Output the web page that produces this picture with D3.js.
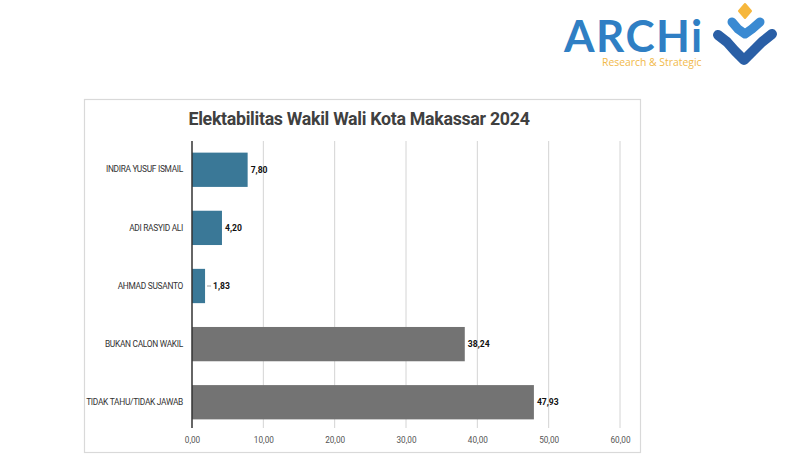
<!DOCTYPE html>
<html><head><meta charset="utf-8">
<script src="https://cdn.jsdelivr.net/npm/d3@7"></script>
<style>body{margin:0;background:#fff}svg{display:block}</style>
</head><body>
<svg id="c" width="800" height="460"></svg>
<script>
const categories = ["INDIRA YUSUF ISMAIL","ADI RASYID ALI","AHMAD SUSANTO","BUKAN CALON WAKIL","TIDAK TAHU/TIDAK JAWAB"];
const values = [7.80, 4.20, 1.83, 38.24, 47.93];
const groups = ["cand","cand","cand","other","other"];
const tickValues = [0,10,20,30,40,50,60];
const title = "Elektabilitas Wakil Wali Kota Makassar 2024";

const svg = d3.select("#c");
const fmt = v => d3.format(".2f")(v).replace(".", ",");

// chart frame
svg.append("rect").attr("x",84.5).attr("y",99.5).attr("width",556).attr("height",353)
  .attr("fill","#fff").attr("stroke","#d9d9d9").attr("stroke-width",1.2);

const x = d3.scaleLinear().domain([0,60]).range([192,620]);
const y = d3.scaleBand().domain(categories).range([141,431]).paddingInner(0.41).paddingOuter(0.2);
const color = d3.scaleOrdinal().domain(["cand","other"]).range(["#3a7897","#737373"]);

// grid
svg.append("g").selectAll("line").data(tickValues.slice(1)).join("line")
  .attr("x1",d=>x(d)).attr("x2",d=>x(d)).attr("y1",141).attr("y2",428)
  .attr("stroke","#d4d4d4").attr("stroke-width",1);

// x axis labels
const xa = svg.append("g").attr("transform","translate(0,428)")
  .call(d3.axisBottom(x).tickValues(tickValues).tickFormat(fmt).tickSize(0).tickPadding(9));
xa.select(".domain").remove();
xa.selectAll("text").attr("font-family","Roboto, sans-serif").attr("font-size",8.2).attr("fill","#555");

// bars
const data = categories.map((c,i)=>({c, v:values[i], g:groups[i]}));
svg.append("g").selectAll("rect").data(data).join("rect")
  .attr("x",x(0)).attr("y",d=>y(d.c)).attr("width",d=>x(d.v)-x(0)).attr("height",y.bandwidth())
  .attr("fill",d=>color(d.g));

// y axis
const ya = svg.append("g").attr("transform",`translate(${x(0)},0)`)
  .call(d3.axisLeft(y).tickSize(0).tickPadding(9));
ya.select(".domain").remove();
ya.selectAll("text").attr("font-family","Roboto, sans-serif").attr("font-size",8.4).attr("fill","#333").attr("letter-spacing",-0.3);
svg.append("line").attr("x1",x(0)).attr("x2",x(0)).attr("y1",141).attr("y2",428)
  .attr("stroke","#333").attr("stroke-width",1.5);

// value labels
svg.append("g").selectAll("text").data(data).join("text")
  .attr("x",d=> d.v < 3 ? x(d.v)+8 : x(d.v)+3)
  .attr("y",d=>y(d.c)+y.bandwidth()/2).attr("dy","0.35em")
  .attr("font-family","Roboto, sans-serif").attr("font-weight","bold").attr("font-size",8.6).attr("fill","#111")
  .text(d=>fmt(d.v));
// leader for small value
svg.append("g").selectAll("line").data(data.filter(d=>d.v<3)).join("line")
  .attr("x1",d=>x(d.v)+2).attr("x2",d=>x(d.v)+6)
  .attr("y1",d=>y(d.c)+y.bandwidth()/2).attr("y2",d=>y(d.c)+y.bandwidth()/2)
  .attr("stroke","#888").attr("stroke-width",0.8);

// title
svg.append("text").attr("x",359).attr("y",125).attr("text-anchor","middle")
  .attr("font-family","Roboto, sans-serif").attr("font-weight","bold").attr("font-size",17.8)
  .attr("fill","#404040").attr("letter-spacing",-0.3).text(title);

// logo
const logo = svg.append("g");
logo.append("text").attr("x",564).attr("y",52).attr("font-family","Lato, 'Open Sans', sans-serif")
  .attr("font-weight","bold").attr("font-size",44).attr("fill","#2f7fc4").attr("letter-spacing",1.5).text("ARCHi");
logo.append("text").attr("x",602).attr("y",66).attr("font-family","'Open Sans', sans-serif")
  .attr("font-size",10.4).attr("fill","#f1b94a").text("Research & Strategic");
logo.append("path").attr("d","M745,4 L751,11 L745,18 L739,11 Z").attr("fill","#f6b73c")
  .attr("stroke","#f6b73c").attr("stroke-width",2).attr("stroke-linejoin","round");
logo.append("path").attr("d","M732,22 L738,29 L745,34 L752,29 L760,22")
  .attr("fill","none").attr("stroke","#3a8ad2").attr("stroke-width",9).attr("stroke-linecap","round").attr("stroke-linejoin","round");
logo.append("path").attr("d","M718,35 L727,42 L735,51 L744,60 L753,51 L762,42 L772,34")
  .attr("fill","none").attr("stroke","#2a5fa6").attr("stroke-width",10).attr("stroke-linecap","round").attr("stroke-linejoin","round");
</script>
</body></html>
